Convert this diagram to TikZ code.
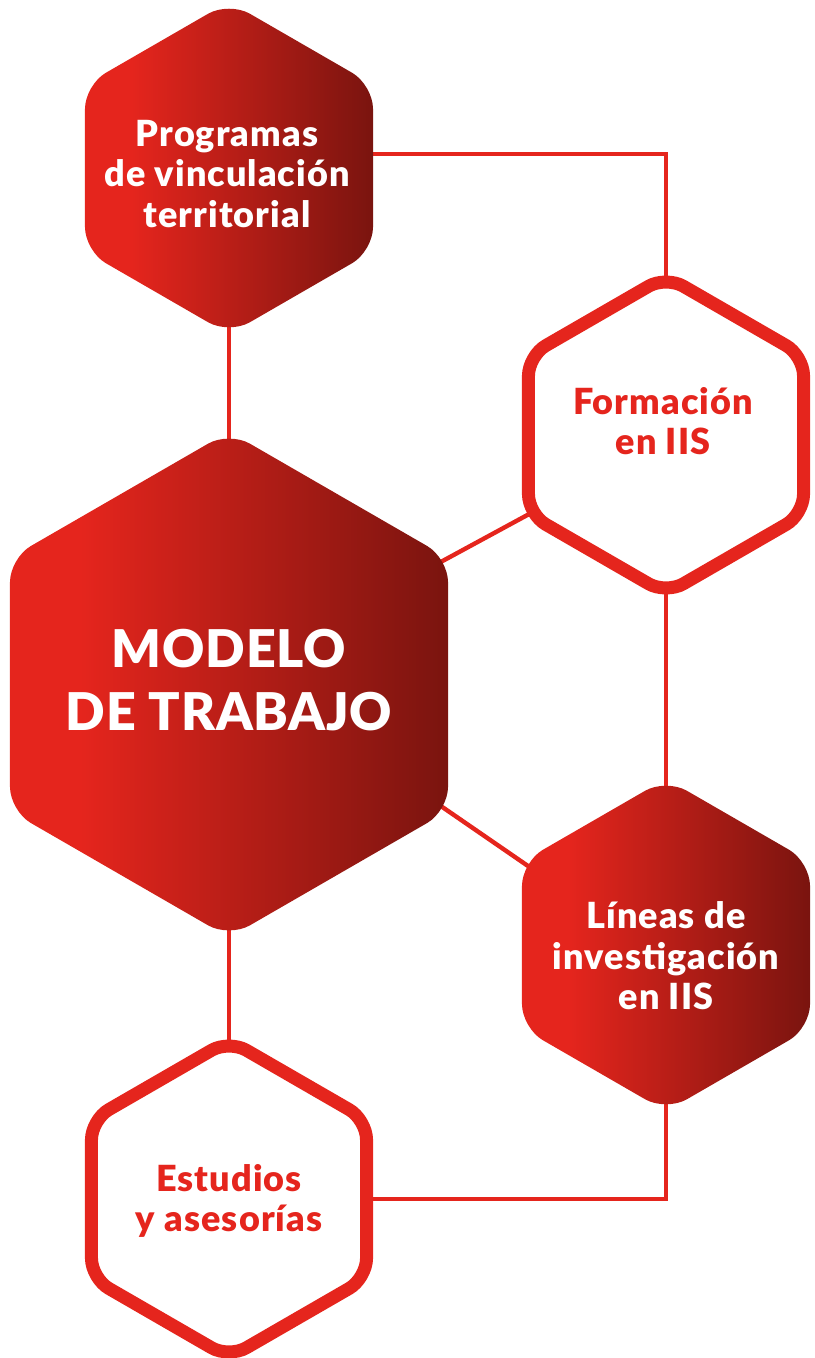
\documentclass[tikz,border=0pt]{standalone}
\usepackage{fontspec}
\setmainfont{Lato}[BoldFont={* Black}]
\usepackage{tikz}
\usetikzlibrary{shapes.geometric,backgrounds,positioning}
\definecolor{hexred}{RGB}{229,37,29}
\definecolor{hexdark}{RGB}{122,20,15}
\pgfdeclarehorizontalshading{hexshade}{100bp}{color(0bp)=(hexred); color(33bp)=(hexred); color(75bp)=(hexdark); color(100bp)=(hexdark)}
\tikzset{
	hex/.style={regular polygon, regular polygon sides=6, shape border rotate=30,
		inner sep=0pt, outer sep=0pt, minimum size=#1},
	hex/.default=166.3pt,
	fillhex/.style={hex=#1, shade, shading=hexshade, rounded corners=12pt},
	fillhex/.default=166.3pt,
	linehex/.style={hex=158.8pt, draw=hexred, fill=white, line width=6.5pt, rounded corners=10pt},
	hextext/.style={align=center, inner sep=0pt,
		font=\bfseries\fontsize{18}{20.25}\selectfont\addfontfeatures{LetterSpace=3}},
	bigtext/.style={align=center, inner sep=0pt,
		font=\bfseries\fontsize{26}{31.5}\selectfont\addfontfeatures{LetterSpace=1.5}},
	conn/.style={draw=hexred, line width=2.2pt},
	diag/.style={conn, shorten <=-8pt, shorten >=-8pt}
}

\begin{document}
\begin{tikzpicture}[x=0.5pt, y=-0.5pt]
	\useasboundingbox (0,0) rectangle (814,1358);
	\node[fillhex] (prog) at (229,168) {};
	\node[fillhex=252.9pt] (model) at (229,684.5) {};
	\node[linehex] (form) at (666,435) {};
	\node[fillhex] (lineas) at (666,945) {};
	\node[linehex] (est) at (229,1199) {};
	% connectors behind the hexagons
	\begin{scope}[on background layer]
		\draw[conn] ([yshift=7pt]prog.center) -| (form.center);
		\draw[conn] (prog.center) -- (model.center);
		\draw[diag] (model.30) -- (form.210);
		\draw[conn] (form.center) -- (lineas.center);
		\draw[diag] (model.-30) -- (lineas.150);
		\draw[conn] (model.center) -- (est.center);
		\draw[conn] (lineas.center) |- (est.center);
	\end{scope}
	\node[hextext, text=white] (progtxt) at (227,174) {Programas\\de vinculación\\territorial};
	\node[bigtext, text=white] (modeltxt) at (229,680) {MODELO\\DE TRABAJO};
	\node[hextext, text=hexred] (formtxt) at (663,421) {Formación\\en IIS};
	\node[hextext, text=white] (lineastxt) at (666,956) {Líneas de\\investigación\\en IIS};
	\node[hextext, text=hexred] (esttxt) at (229,1201) {Estudios\\y asesorías};
\end{tikzpicture}
\end{document}
